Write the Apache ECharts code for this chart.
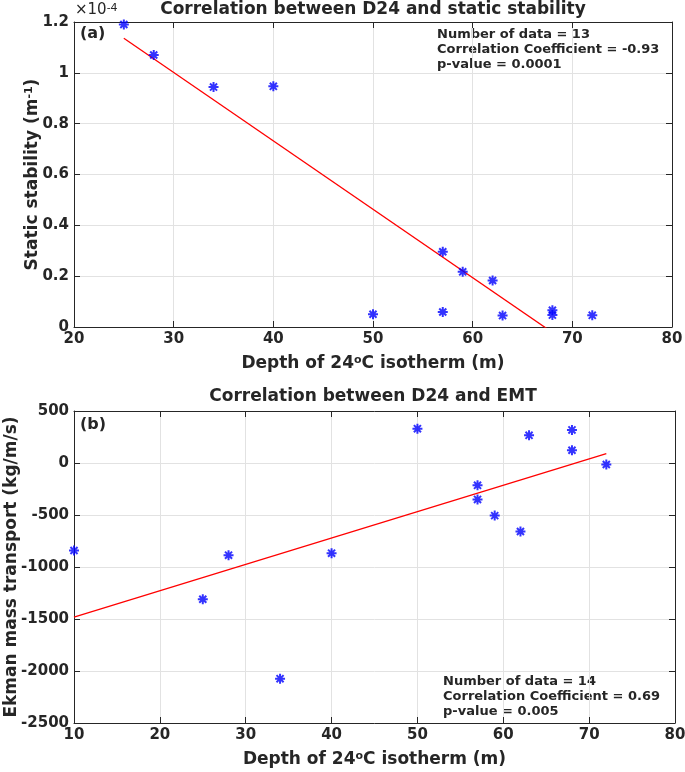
<!DOCTYPE html>
<html><head><meta charset="utf-8">
<script src="https://cdn.jsdelivr.net/npm/echarts@6/dist/echarts.min.js"></script>
<style>html,body{margin:0;padding:0;background:#fff}#c{width:685px;height:772px}</style>
</head><body><div id="c"></div>
<script>
// Panel (a): depth of 24°C isotherm vs static stability (values in units of 1e-4 m^-1)
const depthA = [25, 28, 34, 40, 50, 57, 57, 59, 62, 63, 68, 68, 72];
const stabilityA = [1.19, 1.07, 0.944, 0.947, 0.05, 0.296, 0.059, 0.217, 0.183, 0.045, 0.066, 0.047, 0.046];
const fitAx = [25, 72];
const fitAy = [1.136, -0.129];
const xTicksA = [20, 80, 10];
const yTicksA = [0, 1.2, 0.2];

// Panel (b): depth of 24°C isotherm vs Ekman mass transport (kg/m/s)
const depthB = [10, 25, 28, 34, 40, 50, 57, 57, 59, 62, 63, 68, 68, 72];
const emtB = [-841, -1310, -886, -2074, -867, 330, -215, -350, -506, -659, 266, 318, 123, -14];
const fitBx = [10, 72];
const fitBy = [-1483, 90];
const xTicksB = [10, 80, 10];
const yTicksB = [-2500, 500, 500];

const annA = ['Number of data = 13', 'Correlation Coefficient = -0.93', 'p-value = 0.0001'];
const annB = ['Number of data = 14', 'Correlation Coefficient = 0.69', 'p-value = 0.005'];

const FONT = 'DejaVu Sans';
const TXT = '#262626';
const GRIDC = '#e2e2e2';
const STAR = 'path://M-1,-5 L1,-5 L1,5 L-1,5 Z M-5,-1 L5,-1 L5,1 L-5,1 Z M-2.83,-4.24 L4.24,2.83 L2.83,4.24 L-4.24,-2.83 Z M-4.24,2.83 L2.83,-4.24 L4.24,-2.83 L-2.83,4.24 Z';

function zip(a, b) { return a.map((v, i) => [v, b[i]]); }

const nameRich = {
  sup: { fontSize: 11, fontWeight: 'bold', fontFamily: FONT, color: TXT, verticalAlign: 'top' }
};

function mainX(grid, t) {
  return {
    gridIndex: grid, type: 'value', min: t[0], max: t[1], interval: t[2], position: 'bottom',
    axisLine: { show: true, onZero: false, lineStyle: { color: TXT, width: 1 } },
    axisTick: { show: true, inside: true, length: 6, lineStyle: { color: TXT } },
    axisLabel: { fontSize: 15, fontWeight: 'bold', color: TXT, fontFamily: FONT, margin: 5 },
    splitLine: { show: true, lineStyle: { color: GRIDC, width: 1 } },
    name: 'Depth of 24{sup|o}C isotherm (m)', nameLocation: 'middle', nameGap: 28, nameMoveOverlap: false,
    nameTextStyle: { fontSize: 17, fontWeight: 'bold', color: TXT, fontFamily: FONT, rich: nameRich }
  };
}
function boxX(grid, t) {
  return {
    gridIndex: grid, type: 'value', min: t[0], max: t[1], interval: t[2], position: 'top',
    axisLine: { show: true, onZero: false, lineStyle: { color: TXT, width: 1 } },
    axisTick: { show: true, inside: true, length: 6, lineStyle: { color: TXT } },
    axisLabel: { show: false }, splitLine: { show: false }
  };
}
function mainY(grid, t, name, gap, fmt) {
  return {
    gridIndex: grid, type: 'value', min: t[0], max: t[1], interval: t[2], position: 'left',
    axisLine: { show: true, onZero: false, lineStyle: { color: TXT, width: 1 } },
    axisTick: { show: true, inside: true, length: 6, lineStyle: { color: TXT } },
    axisLabel: { fontSize: 15, fontWeight: 'bold', color: TXT, fontFamily: FONT, margin: 5, formatter: fmt },
    splitLine: { show: true, lineStyle: { color: GRIDC, width: 1 } },
    name: name, nameLocation: 'middle', nameGap: gap, nameRotate: 90, nameMoveOverlap: false,
    nameTextStyle: { fontSize: 17, fontWeight: 'bold', color: TXT, fontFamily: FONT, rich: nameRich }
  };
}
function boxY(grid, t) {
  return {
    gridIndex: grid, type: 'value', min: t[0], max: t[1], interval: t[2], position: 'right',
    axisLine: { show: true, onZero: false, lineStyle: { color: TXT, width: 1 } },
    axisTick: { show: true, inside: true, length: 6, lineStyle: { color: TXT } },
    axisLabel: { show: false }, splitLine: { show: false }
  };
}

function txt(x, y, s, size, weight, align, rich) {
  return {
    type: 'text', x: x, y: y, silent: true,
    style: {
      text: s, fontSize: size, fontWeight: weight, fontFamily: FONT, fill: TXT,
      align: align, verticalAlign: 'middle', textAlign: align, textVerticalAlign: 'middle', rich: rich
    }
  };
}

const graphics = [
  txt(373, 10, 'Correlation between D24 and static stability', 17, 'bold', 'center'),
  txt(373, 397, 'Correlation between D24 and EMT', 17, 'bold', 'center'),
  txt(80, 34, '(a)', 16, 'bold', 'left'),
  txt(80, 425, '(b)', 16, 'bold', 'left'),
  txt(75, 10, '×10{s|-4}', 15, 'normal', 'left', { s: { fontSize: 11, fontFamily: FONT, fill: TXT, color: TXT, verticalAlign: 'top' } })
];
annA.forEach((s, i) => graphics.push(txt(437, 35 + i * 15, s, 13, 'bold', 'left')));
annB.forEach((s, i) => graphics.push(txt(443, 682 + i * 15, s, 13, 'bold', 'left')));

const option = {
  animation: false,
  backgroundColor: '#ffffff',
  textStyle: { fontFamily: FONT },
  grid: [
    { left: 74, top: 22, width: 598, height: 305, containLabel: false, outerBoundsMode: 'none' },
    { left: 74, top: 411, width: 601, height: 312, containLabel: false, outerBoundsMode: 'none' }
  ],
  xAxis: [mainX(0, xTicksA), boxX(0, xTicksA), mainX(1, xTicksB), boxX(1, xTicksB)],
  yAxis: [
    mainY(0, yTicksA, 'Static stability (m{sup|-1})', 33, v => String(+v.toFixed(1))),
    boxY(0, yTicksA),
    mainY(1, yTicksB, 'Ekman mass transport (kg/m/s)', 54, v => String(v)),
    boxY(1, yTicksB)
  ],
  series: [
    { type: 'line', xAxisIndex: 0, yAxisIndex: 0, data: zip(fitAx, fitAy), showSymbol: false, clip: true,
      lineStyle: { color: '#ff0000', width: 1.3 }, z: 2 },
    { type: 'scatter', xAxisIndex: 0, yAxisIndex: 0, data: zip(depthA, stabilityA), symbol: STAR, symbolSize: 10,
      itemStyle: { color: '#0000ff' }, clip: false, z: 3 },
    { type: 'line', xAxisIndex: 2, yAxisIndex: 2, data: zip(fitBx, fitBy), showSymbol: false, clip: true,
      lineStyle: { color: '#ff0000', width: 1.3 }, z: 2 },
    { type: 'scatter', xAxisIndex: 2, yAxisIndex: 2, data: zip(depthB, emtB), symbol: STAR, symbolSize: 10,
      itemStyle: { color: '#0000ff' }, clip: false, z: 3 }
  ],
  graphic: graphics
};

const chart = echarts.init(document.getElementById('c'), null, { renderer: 'canvas' });
chart.setOption(option);
</script>
</body></html>
